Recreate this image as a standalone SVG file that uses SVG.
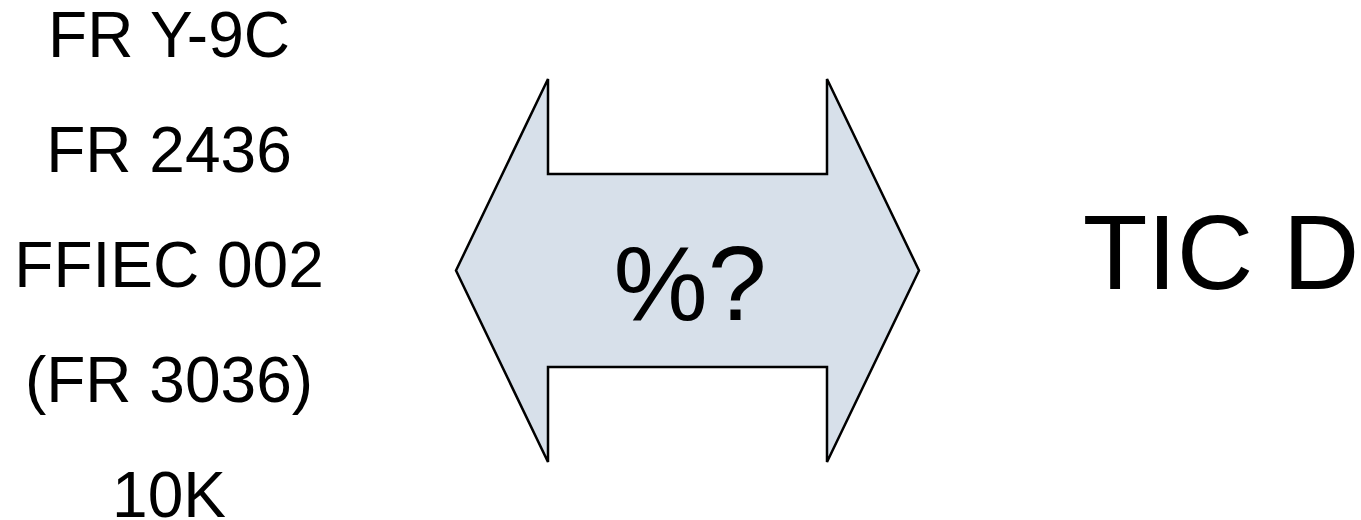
<svg xmlns="http://www.w3.org/2000/svg" width="1361" height="520" viewBox="0 0 1361 520">
<style>
.t{font-family:"Liberation Sans",Arial,sans-serif;fill:#000;text-anchor:middle}
.s{font-size:64px}
.b{font-size:106px}
.arrow{fill:#d7e0ea;stroke:#000;stroke-width:2.5;stroke-linejoin:miter}
</style>
<rect width="1361" height="520" fill="#fff"/>
<g id="sources">
<text class="t s" x="169" y="57">FR Y-9C</text>
<text class="t s" x="169" y="172">FR 2436</text>
<text class="t s" x="169" y="287">FFIEC 002</text>
<text class="t s" x="169" y="402">(FR 3036)</text>
<text class="t s" x="169" y="517">10K</text>
</g>
<g id="connectors">
<g id="double-arrow">
<polygon class="arrow" points="456,270.5 548,79 548,174 827,174 827,79 919,270.5 827,462 827,367 548,367 548,462"/>
<text class="t b" x="690" y="320">%?</text>
</g>
</g>
<g id="target">
<text class="t b" x="1221" y="289">TIC D</text>
</g>
</svg>
